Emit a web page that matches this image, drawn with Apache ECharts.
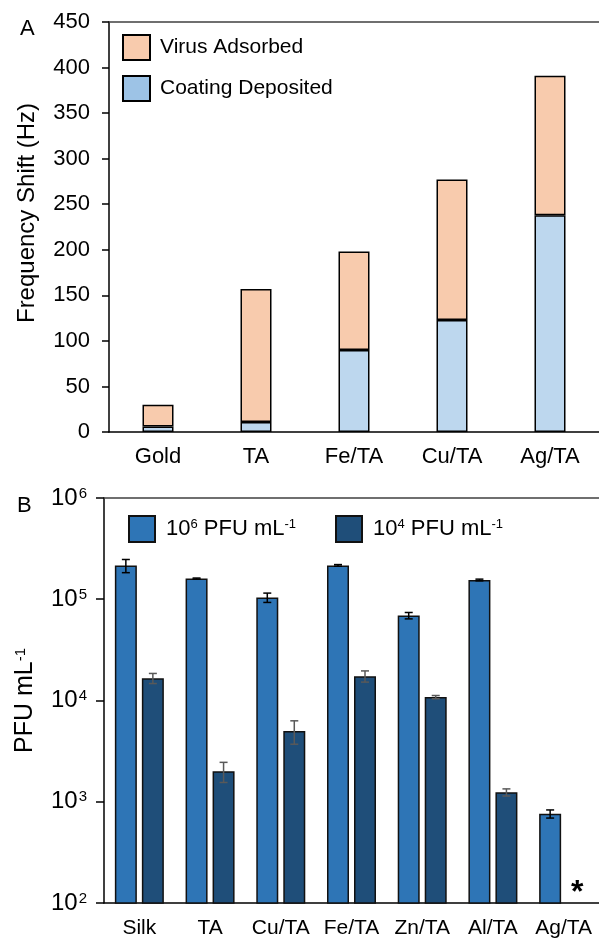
<!DOCTYPE html>
<html>
<head>
<meta charset="utf-8">
<script src="https://cdn.jsdelivr.net/npm/echarts@6/dist/echarts.min.js"></script>
<style>
html,body{margin:0;padding:0;background:#fff;}
#c{width:599px;height:940px;}
</style>
</head>
<body>
<div id="c"></div>
<script>
// ---------- Panel A data ----------
const catsA = ['Gold', 'TA', 'Fe/TA', 'Cu/TA', 'Ag/TA'];
const coatingDeposited = [6, 11, 90, 123, 238];
const virusAdsorbed = [24, 146, 108, 154, 153];
const ticksA = { min: 0, max: 450, interval: 50 };

// ---------- Panel B data ----------
const catsB = ['Silk', 'TA', 'Cu/TA', 'Fe/TA', 'Zn/TA', 'Al/TA', 'Ag/TA'];
const pfu6 = [215000, 160000, 104000, 216000, 69000, 155000, 760];
const pfu6Err = [32000, 2000, 11000, 4000, 5000, 3000, 70];
const pfu4 = [16600, 2000, 5000, 17400, 10800, 1240, null];
const pfu4Err = [1900, 450, 1300, 2200, 400, 100, null];
const ticksB = { min: 100, max: 1000000 };
const asteriskCat = 'Ag/TA';

// ---------- styles ----------
const FONT = 'Liberation Sans, Arial, sans-serif';
const BAR_W_B = 22, GAP_B = 5;
const OFF_B = (BAR_W_B + GAP_B) / 2;

function errSeries(vals, errs, offset, color, xIdx, yIdx) {
  const data = [];
  vals.forEach((v, i) => { if (v != null && errs[i] != null) data.push([i, v, errs[i]]); });
  return {
    type: 'custom',
    coordinateSystem: 'cartesian2d',
    xAxisIndex: xIdx, yAxisIndex: yIdx,
    silent: true,
    z: 10,
    data: data,
    renderItem: function (params, api) {
      const i = api.value(0), v = api.value(1), e = api.value(2);
      const top = api.coord([i, v + e]);
      const bot = api.coord([i, v - e]);
      const x = top[0] + offset;
      const cap = 4;
      const st = { stroke: color, lineWidth: 1.5 };
      return {
        type: 'group',
        children: [
          { type: 'line', shape: { x1: x, y1: top[1], x2: x, y2: bot[1] }, style: st },
          { type: 'line', shape: { x1: x - cap, y1: top[1], x2: x + cap, y2: top[1] }, style: st },
          { type: 'line', shape: { x1: x - cap, y1: bot[1], x2: x + cap, y2: bot[1] }, style: st }
        ]
      };
    }
  };
}

const chart = echarts.init(document.getElementById('c'), null, { renderer: 'canvas' });

const tickRich = {
  b: { fontSize: 24, fontFamily: FONT, color: '#000', lineHeight: 24, verticalAlign: 'bottom' },
  s: { fontSize: 15, fontFamily: FONT, color: '#000', lineHeight: 15, verticalAlign: 'top', padding: [0, 0, 0, 1] }
};
const legRich = {
  b: { fontSize: 22, fontFamily: FONT, color: '#000', lineHeight: 22, verticalAlign: 'bottom' },
  s: { fontSize: 13, fontFamily: FONT, color: '#000', lineHeight: 13, verticalAlign: 'top' }
};

const option = {
  animation: false,
  backgroundColor: '#fff',
  textStyle: { fontFamily: FONT },
  title: [
    { text: 'A', left: 15, top: 13, textStyle: { fontSize: 22, fontWeight: 'normal', color: '#000', fontFamily: FONT } },
    { text: 'B', left: 12, top: 490, textStyle: { fontSize: 22, fontWeight: 'normal', color: '#000', fontFamily: FONT } }
  ],
  legend: [
    {
      orient: 'vertical', left: 117, top: 29, itemWidth: 27, itemHeight: 25, itemGap: 14,
      icon: 'rect',
      data: [
        { name: 'Virus Adsorbed' },
        { name: 'Coating Deposited', itemStyle: { color: '#9DC3E6' } }
      ],
      textStyle: { fontSize: 21, color: '#000', fontFamily: FONT, padding: [0, 0, 0, 5] }
    },
    {
      left: 123, top: 510, itemWidth: 26, itemHeight: 26, icon: 'rect',
      data: ['pfu6'],
      formatter: () => '{b|10}{s|6}{b| PFU mL}{s|-1}',
      textStyle: { padding: [0, 0, 0, 6], rich: legRich }
    },
    {
      left: 330, top: 510, itemWidth: 26, itemHeight: 26, icon: 'rect',
      data: ['pfu4'],
      formatter: () => '{b|10}{s|4}{b| PFU mL}{s|-1}',
      textStyle: { padding: [0, 0, 0, 6], rich: legRich }
    }
  ],
  grid: [
    { left: 109, top: 22, right: 0, height: 410 },
    { left: 104, top: 498, right: 0, height: 405 }
  ],
  xAxis: [
    {
      gridIndex: 0, type: 'category', data: catsA,
      axisLine: { lineStyle: { color: '#000', width: 1.5 } },
      axisTick: { show: false },
      axisLabel: { fontSize: 22, color: '#000', margin: 14, fontFamily: FONT, interval: 0 }
    },
    {
      gridIndex: 0, type: 'category', data: catsA, position: 'top',
      axisLine: { show: true, lineStyle: { color: '#404040', width: 1.5 } },
      axisTick: { show: false }, axisLabel: { show: false }
    },
    {
      gridIndex: 1, type: 'category', data: catsB,
      axisLine: { lineStyle: { color: '#000', width: 1.5 } },
      axisTick: { show: false },
      axisLabel: { fontSize: 21, color: '#000', margin: 15, fontFamily: FONT, interval: 0 }
    },
    {
      gridIndex: 1, type: 'category', data: catsB, position: 'top',
      axisLine: { show: true, lineStyle: { color: '#404040', width: 1.5 } },
      axisTick: { show: false }, axisLabel: { show: false }
    }
  ],
  yAxis: [
    {
      gridIndex: 0, type: 'value', min: ticksA.min, max: ticksA.max, interval: ticksA.interval,
      name: 'Frequency Shift (Hz)', nameLocation: 'middle', nameGap: 70,
      nameTextStyle: { fontSize: 24, color: '#000', fontFamily: FONT, padding: [0, 0, 0, 28] },
      axisLine: { show: true, lineStyle: { color: '#000', width: 1.5 } },
      axisTick: { show: true, length: 7, lineStyle: { color: '#000', width: 1.5 } },
      axisLabel: { fontSize: 22, color: '#000', margin: 19, fontFamily: FONT },
      splitLine: { show: false }
    },
    {
      gridIndex: 1, type: 'log', logBase: 10, min: ticksB.min, max: ticksB.max,
      name: 'PFU mL{s|-1}', nameLocation: 'middle', nameGap: 66,
      nameTextStyle: { fontSize: 25, color: '#000', fontFamily: FONT,
        rich: { s: { fontSize: 15, fontFamily: FONT, color: '#000', verticalAlign: 'top', lineHeight: 15 } } },
      axisLine: { show: true, lineStyle: { color: '#000', width: 1.5 } },
      axisTick: { show: true, length: 8, lineStyle: { color: '#000', width: 1.5 } },
      axisLabel: {
        margin: 17,
        formatter: v => '{b|10}{s|' + Math.round(Math.log10(v)) + '}',
        rich: tickRich
      },
      splitLine: { show: false }
    }
  ],
  series: [
    {
      name: 'Coating Deposited', type: 'bar', stack: 'a', xAxisIndex: 0, yAxisIndex: 0,
      barWidth: 31, data: coatingDeposited,
      itemStyle: { color: '#BDD7EE', borderColor: '#000', borderWidth: 1.5 }
    },
    {
      name: 'Virus Adsorbed', type: 'bar', stack: 'a', xAxisIndex: 0, yAxisIndex: 0,
      barWidth: 31, data: virusAdsorbed,
      itemStyle: { color: '#F8CBAD', borderColor: '#000', borderWidth: 1.5 }
    },
    {
      name: 'pfu6', type: 'bar', xAxisIndex: 2, yAxisIndex: 1,
      barWidth: BAR_W_B, barGap: (GAP_B / BAR_W_B * 100) + '%', data: pfu6,
      itemStyle: { color: '#2E75B6', borderColor: '#111', borderWidth: 1.5 }
    },
    {
      name: 'pfu4', type: 'bar', xAxisIndex: 2, yAxisIndex: 1,
      barWidth: BAR_W_B, barGap: (GAP_B / BAR_W_B * 100) + '%', data: pfu4,
      itemStyle: { color: '#1F4E79', borderColor: '#111', borderWidth: 1.5 },
      markPoint: {
        symbol: 'circle', symbolSize: 1,
        itemStyle: { color: 'rgba(0,0,0,0)' },
        data: [{ coord: [asteriskCat, ticksB.min] }],
        label: { show: true, formatter: '*', position: 'inside', offset: [0, -10],
          fontSize: 32, fontWeight: 'bold', color: '#000', fontFamily: FONT }
      }
    },
    errSeries(pfu6, pfu6Err, -OFF_B, '#000', 2, 1),
    errSeries(pfu4, pfu4Err, OFF_B, '#595959', 2, 1)
  ]
};
chart.setOption(option);
</script>
</body>
</html>
